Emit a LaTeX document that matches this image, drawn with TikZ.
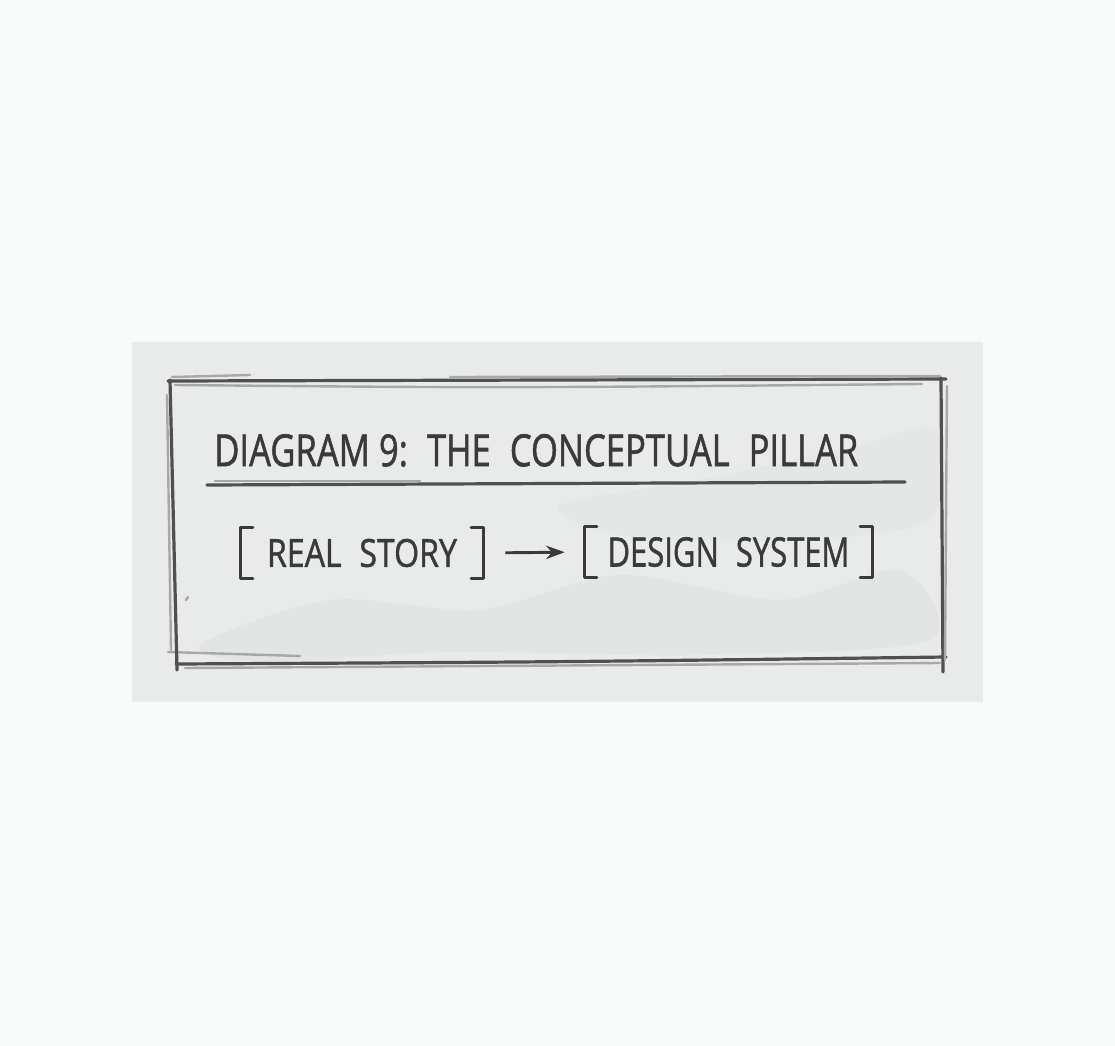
\documentclass[tikz,border=0pt]{standalone}
\usepackage{xcolor}
\usepackage{graphicx}
\usepackage{fontspec}
\setmainfont[BoldFont={Open Sans}, BoldFeatures={FakeBold=1.4}]{Open Sans}
\usetikzlibrary{calc, arrows.meta, positioning}

\definecolor{paper}{HTML}{F8F9F9}
\definecolor{card}{HTML}{E9EAEA}
\definecolor{smudge}{HTML}{DCDDDD}
\definecolor{ink}{HTML}{3A3A3A}
\definecolor{pencil}{HTML}{505050}

\newcommand{\sketchtext}[3]{\resizebox{#1}{#2}{\bfseries #3}}
\newcommand{\gap}{\hspace{0.55em}}

\tikzset{
	inkline/.style={draw=pencil, line width=2.4pt, line cap=round},
	faintline/.style={draw=pencil!50, line width=1.8pt, line cap=round},
	bracketbox/.style={inner sep=0pt, minimum height=37.5pt, text=ink},
	bracket/.style={draw=ink, line width=2.6pt, line cap=round, line join=round},
	sketcharrow/.style={draw=ink, line width=2.2pt, -{Stealth[length=14pt, width=10pt]}}
}

\begin{document}
\begin{tikzpicture}[x=0.75pt, y=-0.75pt]
		%page
		\fill [paper] (0,0) rectangle (1115,1046);
		\useasboundingbox (0,0) rectangle (1115,1046);
		
		%card
		\fill [card] (132,342) rectangle (983,702);
		\fill [smudge, opacity=0.45] plot [smooth cycle] coordinates {(200,645) (330,600) (480,610) (620,575) (780,600) (900,570) (930,640) (700,655) (450,652) (260,662)};
		\fill [smudge, opacity=0.3] plot [smooth cycle] coordinates {(560,505) (700,480) (860,445) (935,430) (930,520) (780,540) (620,535)};
		
		%frame
		\draw [inkline] (168,381) -- (946,379);
		\draw [faintline] (175,385) .. controls (500,388) .. (922,384);
		\draw [faintline] (172,377) -- (250,375);
		\draw [faintline] (450,377) -- (940,376);
		\draw [inkline] (176,664) .. controls (560,662) .. (946,657);
		\draw [faintline] (185,668) -- (940,663);
		\draw [faintline] (168,652) -- (300,656);
		\draw [inkline] (170,380) -- (177,670);
		\draw [faintline] (167,395) -- (171,650);
		\draw [inkline] (941,378) -- (943,672);
		\draw [faintline] (947,386) -- (945,660);
		\draw [faintline] (186,600) -- (188,597);
		
		%title
		\node [anchor=south west, inner sep=0pt, text=ink] (title) at (214,467) {\sketchtext{483pt}{24pt}{DIAGRAM 9:\gap THE\gap CONCEPTUAL\gap PILLAR}};
		\coordinate (ul1) at (207,485);
		\coordinate (ul2) at (905,482);
		\draw [inkline] (ul1) -- (ul2);
		\draw [faintline] (215,481) -- (420,481);
		
		%pillar
		\node [bracketbox, minimum width=181.5pt] (story) at (362,553) {\sketchtext{142.5pt}{21pt}{REAL\gap STORY}};
		\node [bracketbox, minimum width=215.25pt] (design) at (728.5,552) {\sketchtext{181.5pt}{22pt}{DESIGN\gap SYSTEM}};
		
		\draw [bracket] ($ (story.north west) + (12,0) $) -- (story.north west) -- (story.south west) -- ++(12,0);
		\draw [bracket] ($ (story.north east) + (-12,0) $) -- (story.north east) -- (story.south east) -- ++(-12,0);
		\draw [bracket] ($ (design.north west) + (12,0) $) -- (design.north west) -- (design.south west) -- ++(12,0);
		\draw [bracket] ($ (design.north east) + (-12,0) $) -- (design.north east) -- (design.south east) -- ++(-12,0);
		
		%connector
		\draw [sketcharrow, shorten <=16.5pt, shorten >=15pt] (story.east) -- (design.west);
	\end{tikzpicture}
\end{document}
